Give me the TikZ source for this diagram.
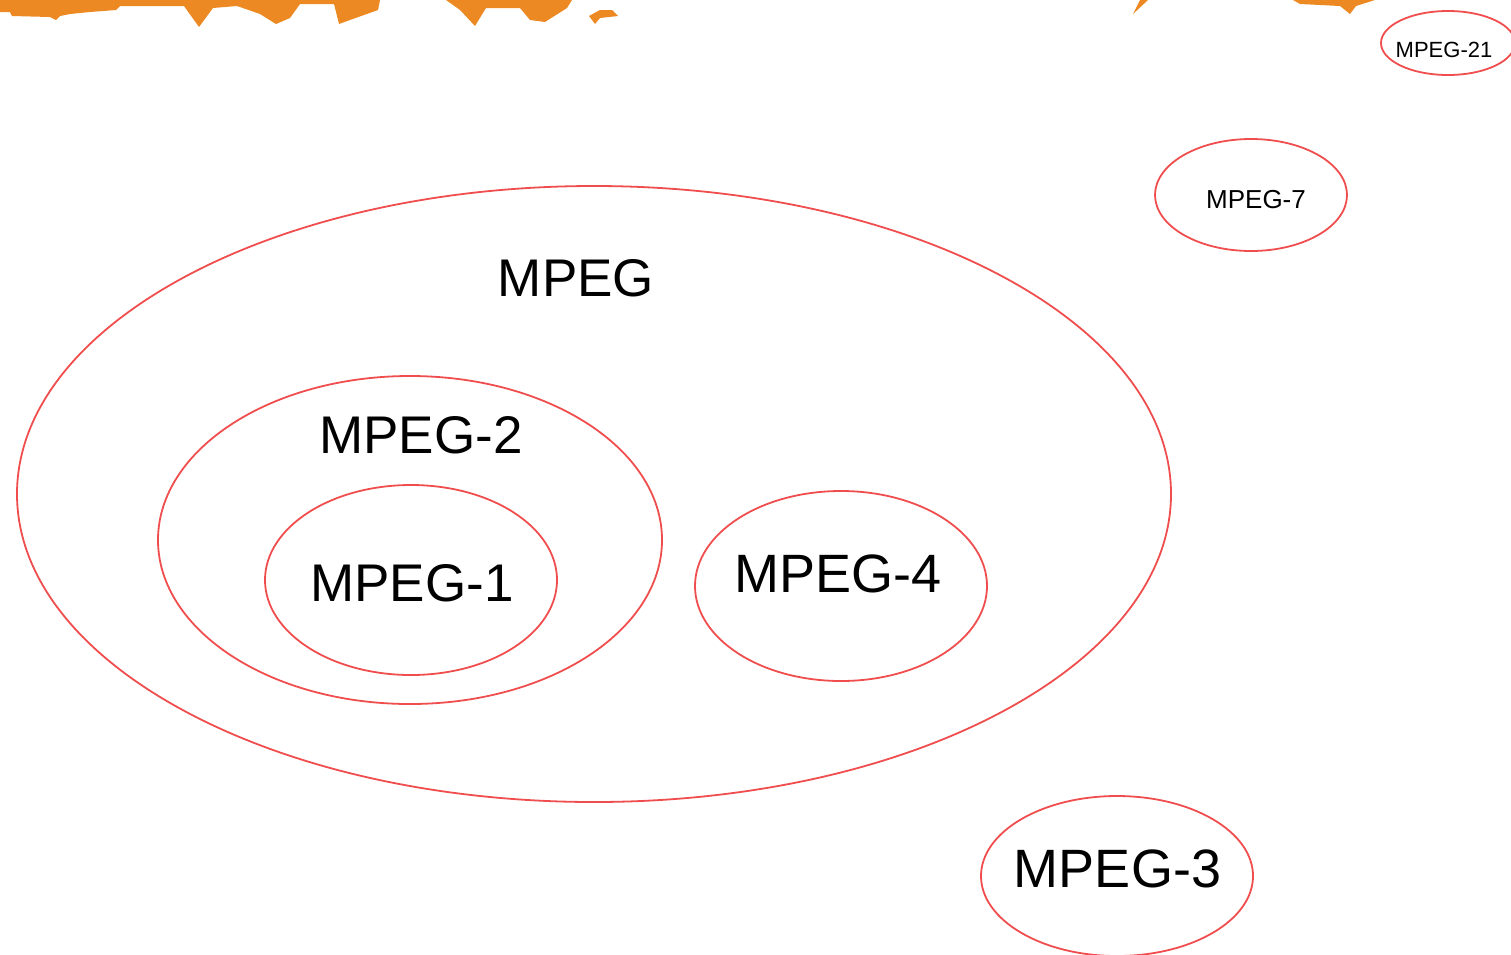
\documentclass[tikz,border=0pt]{standalone}
\usepackage{fontspec}
\setmainfont{Liberation Sans}
\usetikzlibrary{shapes.geometric}
\definecolor{ringred}{RGB}{240,78,78}
\definecolor{splash}{RGB}{236,137,34}
\tikzset{
  ring/.style={ellipse, draw=ringred, line width=1.8pt, inner sep=0pt},
  tag/.style={inner sep=0pt, text depth=0pt, font=\fontsize{#1}{#1}\selectfont}
}
\begin{document}
\begin{tikzpicture}[x=1pt, y=-1pt]
\useasboundingbox (0,0) rectangle (1511,954);

% orange paint strip along the top edge
\fill[splash] (0,0) -- (0,12) -- (10,12) -- (12,16) -- (50,17) -- (56,20) -- (60,16)
  -- (70,14) -- (90,12) -- (116,10) -- (120,6) -- (184,6) -- (199,27) -- (213,8)
  -- (237,6) -- (260,14) -- (276,24) -- (290,18) -- (300,4) -- (334,4) -- (339,24)
  -- (350,20) -- (378,10) -- (380,0) -- cycle;
\fill[splash] (446,0) -- (460,10) -- (475,26) -- (486,8) -- (520,8) -- (530,20)
  -- (545,22) -- (567,8) -- (572,0) -- cycle;
\fill[splash] (589,16) -- (600,10) -- (612,10) -- (618,16) -- (600,18) -- (595,24) -- cycle;
\fill[splash] (1133,14) -- (1140,0) -- (1148,0) -- cycle;
\fill[splash] (1293,0) -- (1300,4) -- (1340,6) -- (1350,14) -- (1356,6) -- (1375,0) -- cycle;

% family rings
\node[ring, minimum width=1154pt, minimum height=616pt] (mpegRing) at (594,494) {};
\node[ring, minimum width=504pt,  minimum height=328pt] (twoRing)  at (410,540) {};
\node[ring, minimum width=292pt,  minimum height=190pt] (oneRing)  at (411,580) {};
\node[ring, minimum width=292pt,  minimum height=190pt] (fourRing) at (841,586) {};
\node[ring, minimum width=272pt,  minimum height=160pt] (threeRing) at (1117,876) {};
\node[ring, minimum width=192pt,  minimum height=112pt] (sevenRing) at (1251,195) {};
\node[ring, minimum width=134pt,  minimum height=64pt]  (twentyoneRing) at (1448,43) {};

% labels
\node[tag=53] (mpeg)  at (576,277.5) {MPEG};
\node[tag=53] (two)   at (421,434.5) {MPEG-2};
\node[tag=53] (one)   at (412,583) {MPEG-1};
\node[tag=54] (four)  at (838,573.5) {MPEG-4};
\node[tag=54] (three) at (1117.5,869) {MPEG-3};
\node[tag=26] (seven) at (1256,199) {MPEG-7};
\node[tag=22] (twentyone) at (1444,50) {MPEG-21};
\end{tikzpicture}
\end{document}
